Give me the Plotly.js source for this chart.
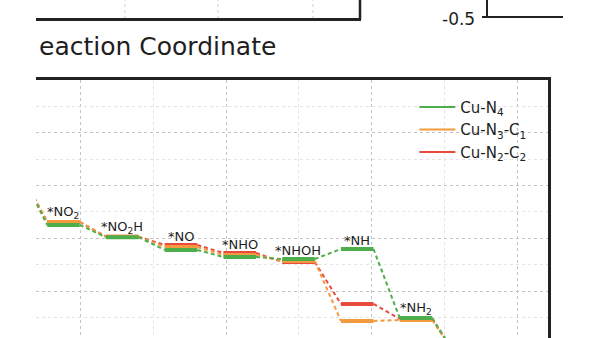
<!DOCTYPE html>
<html>
<head>
<meta charset="utf-8">
<script src="https://cdn.plot.ly/plotly-3.0.1.min.js"></script>
<style>html,body{margin:0;padding:0;background:#fff;}#chart{width:600px;height:338px;}</style>
</head>
<body>
<div id="chart"></div>
<script>
// Reaction steps (index -1 and 7 are the unlabeled neighbouring intermediates)
const stepIndex = [-1, 0, 1, 2, 3, 4, 5, 6, 7];
const stepLabels = ['', '*NO<sub>2</sub>', '*NO<sub>2</sub>H', '*NO', '*NHO', '*NHOH', '*NH', '*NH<sub>2</sub>', ''];

// Free energies (eV)
const cuN4   = [-0.38, -0.874, -0.990, -1.111, -1.178, -1.197, -1.102, -1.756, -2.15];
const cuN3C1 = [-0.38, -0.846, -0.985, -1.083, -1.159, -1.216, -1.784, -1.775, -2.15];
const cuN2C2 = [-0.38, -0.846, -0.985, -1.064, -1.140, -1.225, -1.623, -1.765, -2.15];

const seriesNames = ['Cu-N<sub>4</sub>', 'Cu-N<sub>3</sub>-C<sub>1</sub>', 'Cu-N<sub>2</sub>-C<sub>2</sub>'];
const seriesColors = ['#4fae4c', '#f39a3e', '#e94a3e'];
const seriesData = [cuN4, cuN3C1, cuN2C2];

const hw = 0.277; // half width of an energy level (in step units)

function levelTrace(vals, color) {
  const x = [], y = [];
  stepIndex.forEach((k, i) => { x.push(k - hw, k + hw, null); y.push(vals[i], vals[i], null); });
  return {type: 'scatter', mode: 'lines', x, y, showlegend: false, hoverinfo: 'skip',
          line: {color, width: 4}};
}
function connTrace(vals, color) {
  const x = [], y = [];
  for (let i = 0; i < stepIndex.length - 1; i++) {
    x.push(stepIndex[i] + hw, stepIndex[i + 1] - hw, null);
    y.push(vals[i], vals[i + 1], null);
  }
  return {type: 'scatter', mode: 'lines', x, y, showlegend: false, hoverinfo: 'skip',
          line: {color, width: 2, dash: '4px,3px'}};
}

const traces = [];
// legend entries (Cu-N4, Cu-N3-C1, Cu-N2-C2)
seriesNames.forEach((n, s) => traces.push({type: 'scatter', mode: 'lines', x: [null], y: [null],
  name: n, line: {color: seriesColors[s], width: 2}}));
// draw order: red, orange, green (green on top)
const order = [2, 1, 0];
order.forEach(s => traces.push(connTrace(seriesData[s], seriesColors[s])));
order.forEach(s => traces.push(levelTrace(seriesData[s], seriesColors[s])));

const annotations = [];
stepIndex.forEach((k, i) => {
  if (!stepLabels[i]) return;
  const top = Math.max(cuN4[i], cuN3C1[i], cuN2C2[i]);
  annotations.push({xref: 'x', yref: 'y', x: k, y: top, text: stepLabels[i], showarrow: false,
    xanchor: 'center', yanchor: 'bottom', yshift: -1,
    font: {family: 'DejaVu Sans', size: 13, color: '#1e1e1e'}});
});
// fragments of neighbouring panels
annotations.push({xref: 'paper', yref: 'paper', x: 0.002, y: 1.128, text: 'eaction Coordinate',
  showarrow: false, xanchor: 'left', yanchor: 'middle',
  font: {family: 'DejaVu Sans', size: 25, color: '#1e1e1e'}});
annotations.push({xref: 'paper', yref: 'paper', x: 0.862, y: 1.238, text: '-0.5',
  showarrow: false, xanchor: 'right', yanchor: 'middle',
  font: {family: 'DejaVu Sans', size: 17, color: '#1e1e1e'}});

const px = v => (v - 36) / 512, py = v => (338 - v) / 258;
const shapes = [
  {type: 'line', xref: 'paper', yref: 'paper', x0: px(125), x1: px(125), y0: py(19), y1: py(0), line: {color: '#cfcfcf', width: 1, dash: 'dot'}},
  {type: 'line', xref: 'paper', yref: 'paper', x0: px(218), x1: px(218), y0: py(19), y1: py(0), line: {color: '#cfcfcf', width: 1, dash: 'dot'}},
  {type: 'line', xref: 'paper', yref: 'paper', x0: px(313), x1: px(313), y0: py(19), y1: py(0), line: {color: '#cfcfcf', width: 1, dash: 'dot'}},
  {type: 'line', xref: 'paper', yref: 'paper', x0: px(36), x1: px(361), y0: py(19.5), y1: py(19.5), line: {color: '#222', width: 3}},
  {type: 'line', xref: 'paper', yref: 'paper', x0: px(360), x1: px(360), y0: py(19.5), y1: py(0), line: {color: '#222', width: 2.5}},
  {type: 'line', xref: 'paper', yref: 'paper', x0: px(487), x1: px(487), y0: py(17), y1: py(0), line: {color: '#222', width: 2}},
  {type: 'line', xref: 'paper', yref: 'paper', x0: px(482), x1: px(563), y0: py(17), y1: py(17), line: {color: '#222', width: 2}}
];

const layout = {
  width: 600, height: 338,
  margin: {l: 36, r: 52, t: 80, b: 0, pad: 0},
  paper_bgcolor: '#fff', plot_bgcolor: '#fff',
  showlegend: true,
  legend: {x: 0.739, xanchor: 'left', y: 0.958, yanchor: 'top', bgcolor: 'rgba(0,0,0,0)',
    itemwidth: 36, font: {family: 'DejaVu Sans', size: 15, color: '#1e1e1e'}, tracegroupgap: 0},
  xaxis: {range: [-0.468, 8.247], side: 'top', showline: true, linecolor: '#222', linewidth: 3,
    showticklabels: false, ticks: '', zeroline: false,
    showgrid: true, tick0: 0.281, dtick: 2.485, gridcolor: '#c4c4c4', griddash: 'dot', gridwidth: 1,
    minor: {showgrid: true, tick0: 0.281, dtick: 1.2425, gridcolor: '#e4e4e4', griddash: 'dot', gridwidth: 1}},
  yaxis: {range: [-1.9455, 0.5], side: 'right', showline: true, linecolor: '#222', linewidth: 2.5,
    showticklabels: false, ticks: '', zeroline: false,
    showgrid: true, tick0: 0, dtick: 0.5, gridcolor: '#c4c4c4', griddash: 'dot', gridwidth: 1,
    minor: {showgrid: true, tick0: 0, dtick: 0.25, gridcolor: '#e4e4e4', griddash: 'dot', gridwidth: 1}},
  annotations, shapes
};

Plotly.newPlot('chart', traces, layout, {staticPlot: true, displayModeBar: false});
</script>
</body>
</html>
